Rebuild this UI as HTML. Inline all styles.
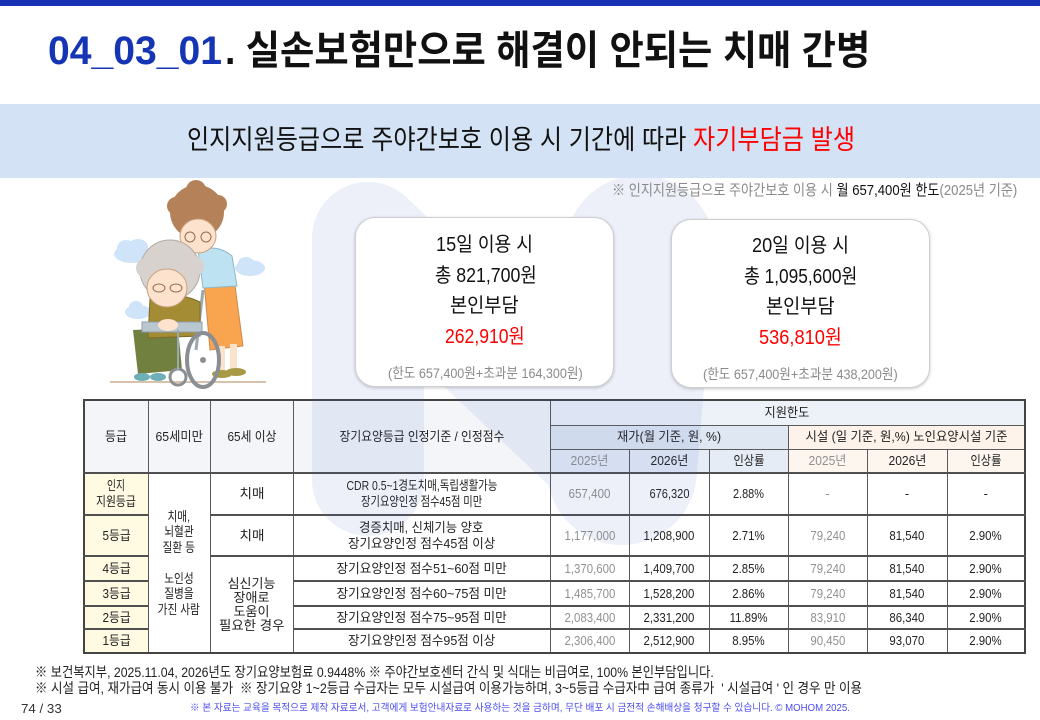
<!DOCTYPE html>
<html><head><meta charset="utf-8">
<style>
*{margin:0;padding:0;box-sizing:border-box}
html,body{width:1040px;height:720px;overflow:hidden;background:#fff}
body{position:relative;font-family:"Liberation Sans","Noto Sans CJK KR",sans-serif;color:#1a1a1a}
.a{position:absolute;white-space:nowrap;line-height:1;transform-origin:0 50%}
.f{display:inline-block;white-space:nowrap;transform-origin:50% 50%}
.bar{position:absolute;left:0;top:0;width:1040px;height:6px;background:#1732b2}
.band{position:absolute;left:0;top:104px;width:1040px;height:74px;background:#d3e2f4;z-index:3}
.box{position:absolute;background:#fff;border:1px solid #cfcfcf;border-radius:20px;box-shadow:0 1px 3px rgba(0,0,0,0.22);z-index:3}
.bt{z-index:4}
.tb{position:absolute;left:83px;top:399px;border-collapse:collapse;table-layout:fixed;width:943px;font-size:13px;border:2px solid #444;z-index:1}
.tb td{border:1px solid #5a5a5a;text-align:center;vertical-align:middle;padding:0;line-height:16px;white-space:nowrap;color:#222}
.tb tr.d td{border-top:2px solid #505050}
.h{background:#f3f5f9}
.h1{background:#edf2f8}
.jb{background:#dfe7f2}
.sb{background:#fdf3ea}
.jy{background:#e5ecf6}
.sy{background:#fdf6ef}
.y{background:#fffbe2}
.g{color:#909090 !important}
.k .f{transform:scaleX(0.82)}
.n .f{transform:scaleX(0.88)}
.wm{position:absolute;left:0;top:0;z-index:2;pointer-events:none}
</style></head>
<body>
<div class="bar"></div>

<div class="a" style="left:48px;top:31px;font-size:40px;font-weight:bold;color:#1535b5;--tw:174px">04_03_01</div>
<div class="a" style="left:225px;top:31px;font-size:40px;font-weight:bold;color:#111;--tw:645px">. 실손보험만으로 해결이 안되는 치매 간병</div>

<div class="band"></div>
<div class="a" style="left:187px;top:127px;font-size:27px;color:#111;z-index:4;--tw:668px">인지지원등급으로 주야간보호 이용 시 기간에 따라 <span style="color:#ff0000">자기부담금 발생</span></div>

<div class="a" style="left:612px;top:183px;font-size:15px;color:#8a8a8a;z-index:4;--tw:405px">※ 인지지원등급으로 주야간보호 이용 시 <span style="color:#111">월 657,400원 한도</span>(2025년 기준)</div>

<!-- illustration -->
<svg style="position:absolute;left:100px;top:170px" width="300" height="230" viewBox="0 0 300 230">
  <g fill="#cfe4f8">
    <ellipse cx="32" cy="84" rx="18" ry="9"/><ellipse cx="26" cy="78" rx="9" ry="8"/><ellipse cx="38" cy="77" rx="10" ry="8"/>
    <ellipse cx="150" cy="98" rx="15" ry="8"/><ellipse cx="146" cy="93" rx="8" ry="6"/>
    <ellipse cx="38" cy="142" rx="13" ry="7"/><ellipse cx="36" cy="137" rx="7" ry="6"/>
  </g>
  <line x1="10" y1="212" x2="166" y2="212" stroke="#d9c2aa" stroke-width="2"/>
  <path d="M104 112 L134 108 L143 176 L110 180 Z" fill="#f9a54f" stroke="#c98a50" stroke-width="1"/>
  <path d="M98 80 Q118 74 132 86 L137 116 L103 118 Z" fill="#bde2f2" stroke="#8fb7c8" stroke-width="1"/>
  <rect x="118" y="176" width="7" height="26" fill="#fbe2cc"/><rect x="130" y="174" width="7" height="26" fill="#fbe2cc"/>
  <ellipse cx="122" cy="204" rx="10" ry="4" fill="#a89a45"/><ellipse cx="136" cy="202" rx="10" ry="4" fill="#a89a45"/>
  <circle cx="97" cy="42" r="27" fill="#b58159"/>
  <circle cx="76" cy="36" r="9" fill="#b58159"/><circle cx="118" cy="34" r="9" fill="#b58159"/><circle cx="96" cy="20" r="10" fill="#b58159"/>
  <ellipse cx="98" cy="66" rx="18" ry="17" fill="#fde3cd" stroke="#c9a080" stroke-width="1"/>
  <circle cx="90" cy="67" r="5" fill="none" stroke="#9a6a50" stroke-width="1"/><circle cx="106" cy="67" r="5" fill="none" stroke="#9a6a50" stroke-width="1"/>
  <line x1="103" y1="120" x2="96" y2="180" stroke="#9aa8b0" stroke-width="3"/>
  <path d="M33 160 L78 158 L82 200 L38 204 Z" fill="#717f3f"/>
  <path d="M50 128 Q75 120 100 132 L100 166 L48 168 Z" fill="#a38c33" stroke="#7d6a28" stroke-width="1"/>
  <rect x="42" y="152" width="60" height="10" fill="#b9c8d0" stroke="#8e9ea8" stroke-width="1"/>
  <circle cx="70" cy="100" r="30" fill="#d7d2cd" stroke="#b3aaa2" stroke-width="1"/>
  <circle cx="46" cy="98" r="10" fill="#d7d2cd"/><circle cx="94" cy="96" r="10" fill="#d7d2cd"/>
  <ellipse cx="67" cy="118" rx="20" ry="19" fill="#fde3cd" stroke="#c9a080" stroke-width="1"/>
  <ellipse cx="59" cy="118" rx="6" ry="4" fill="none" stroke="#9a6a50" stroke-width="1"/><ellipse cx="76" cy="118" rx="6" ry="4" fill="none" stroke="#9a6a50" stroke-width="1"/>
  <ellipse cx="68" cy="155" rx="10" ry="6" fill="#fde3cd"/>
  <ellipse cx="42" cy="207" rx="8" ry="4" fill="#6fb0b8"/><ellipse cx="58" cy="207" rx="8" ry="4" fill="#6fb0b8"/>
  <ellipse cx="103" cy="190" rx="16" ry="27" fill="none" stroke="#8a8f94" stroke-width="4"/>
  <circle cx="103" cy="190" r="3" fill="#8a8f94"/>
  <circle cx="78" cy="207" r="8" fill="none" stroke="#8a8f94" stroke-width="3"/>
  <line x1="78" y1="160" x2="78" y2="200" stroke="#9aa8b0" stroke-width="2"/>
</svg>

<!-- table -->
<table class="tb">
<colgroup><col style="width:64px"><col style="width:62px"><col style="width:83px"><col style="width:257px"><col style="width:79px"><col style="width:80px"><col style="width:79px"><col style="width:79px"><col style="width:80px"><col style="width:78px"></colgroup>
<tr style="height:25px">
 <td rowspan="3" class="h"><span class="f" style="--tw:22px">등급</span></td>
 <td rowspan="3" class="h"><span class="f" style="--tw:47px">65세미만</span></td>
 <td rowspan="3" class="h"><span class="f" style="--tw:49px">65세 이상</span></td>
 <td rowspan="3" class="h"><span class="f" style="--tw:165px">장기요양등급 인정기준 / 인정점수</span></td>
 <td colspan="6" class="h1"><span class="f" style="--tw:45px">지원한도</span></td>
</tr>
<tr style="height:24px">
 <td colspan="3" class="jb"><span class="f" style="--tw:104px">재가(월 기준, 원, %)</span></td>
 <td colspan="3" class="sb"><span class="f" style="--tw:202px">시설 (일 기준, 원,%) 노인요양시설 기준</span></td>
</tr>
<tr style="height:24px">
 <td class="jy g"><span class="f" style="--tw:38px">2025년</span></td>
 <td class="jy"><span class="f" style="--tw:38px">2026년</span></td>
 <td class="jy"><span class="f" style="--tw:31px">인상률</span></td>
 <td class="sy g"><span class="f" style="--tw:38px">2025년</span></td>
 <td class="sy"><span class="f" style="--tw:38px">2026년</span></td>
 <td class="sy"><span class="f" style="--tw:31px">인상률</span></td>
</tr>
<tr class="d" style="height:42px">
 <td class="y"><span class="f" style="--tw:18px">인지</span><br><span class="f" style="--tw:40px">지원등급</span></td>
 <td rowspan="6" class="k" style="line-height:15.5px"><span class="f">치매,</span><br><span class="f">뇌혈관</span><br><span class="f">질환 등</span><br>&nbsp;<br><span class="f">노인성</span><br><span class="f">질병을</span><br><span class="f">가진 사람</span></td>
 <td><span class="f" style="--tw:25px">치매</span></td>
 <td><span class="f" style="--tw:151px">CDR 0.5~1경도치매,독립생활가능</span><br><span class="f" style="--tw:121px">장기요양인정 점수45점 미만</span></td>
 <td class="g"><span class="f" style="--tw:42px">657,400</span></td>
 <td><span class="f" style="--tw:40px">676,320</span></td>
 <td><span class="f" style="--tw:31px">2.88%</span></td>
 <td class="g">-</td><td>-</td><td>-</td>
</tr>
<tr class="d" style="height:41px">
 <td class="y"><span class="f" style="--tw:28px">5등급</span></td>
 <td><span class="f" style="--tw:25px">치매</span></td>
 <td><span class="f" style="--tw:124px">경증치매, 신체기능 양호</span><br><span class="f" style="--tw:147px">장기요양인정 점수45점 이상</span></td>
 <td class="g n"><span class="f">1,177,000</span></td>
 <td class="n"><span class="f">1,208,900</span></td>
 <td class="n"><span class="f">2.71%</span></td>
 <td class="g n"><span class="f">79,240</span></td>
 <td class="n"><span class="f">81,540</span></td>
 <td class="n"><span class="f">2.90%</span></td>
</tr>
<tr class="d" style="height:25px">
 <td class="y"><span class="f" style="--tw:28px">4등급</span></td>
 <td rowspan="4" style="line-height:14px"><span class="f" style="--tw:48px">심신기능</span><br><span class="f" style="--tw:36px">장애로</span><br><span class="f" style="--tw:36px">도움이</span><br><span class="f" style="--tw:65px">필요한 경우</span></td>
 <td><span class="f" style="--tw:170px">장기요양인정 점수51~60점 미만</span></td>
 <td class="g n"><span class="f">1,370,600</span></td>
 <td class="n"><span class="f">1,409,700</span></td>
 <td class="n"><span class="f">2.85%</span></td>
 <td class="g n"><span class="f">79,240</span></td>
 <td class="n"><span class="f">81,540</span></td>
 <td class="n"><span class="f">2.90%</span></td>
</tr>
<tr class="d" style="height:25px">
 <td class="y"><span class="f" style="--tw:28px">3등급</span></td>
 <td><span class="f" style="--tw:170px">장기요양인정 점수60~75점 미만</span></td>
 <td class="g n"><span class="f">1,485,700</span></td>
 <td class="n"><span class="f">1,528,200</span></td>
 <td class="n"><span class="f">2.86%</span></td>
 <td class="g n"><span class="f">79,240</span></td>
 <td class="n"><span class="f">81,540</span></td>
 <td class="n"><span class="f">2.90%</span></td>
</tr>
<tr class="d" style="height:23px">
 <td class="y"><span class="f" style="--tw:28px">2등급</span></td>
 <td><span class="f" style="--tw:170px">장기요양인정 점수75~95점 미만</span></td>
 <td class="g n"><span class="f">2,083,400</span></td>
 <td class="n"><span class="f">2,331,200</span></td>
 <td class="n"><span class="f">11.89%</span></td>
 <td class="g n"><span class="f">83,910</span></td>
 <td class="n"><span class="f">86,340</span></td>
 <td class="n"><span class="f">2.90%</span></td>
</tr>
<tr class="d" style="height:24px">
 <td class="y"><span class="f" style="--tw:28px">1등급</span></td>
 <td><span class="f" style="--tw:147px">장기요양인정 점수95점 이상</span></td>
 <td class="g n"><span class="f">2,306,400</span></td>
 <td class="n"><span class="f">2,512,900</span></td>
 <td class="n"><span class="f">8.95%</span></td>
 <td class="g n"><span class="f">90,450</span></td>
 <td class="n"><span class="f">93,070</span></td>
 <td class="n"><span class="f">2.90%</span></td>
</tr>
</table>

<!-- watermark -->
<svg class="wm" width="1040" height="720" viewBox="0 0 1040 720">
  <g opacity="0.085" fill="none" stroke="#3f5fc4" stroke-linecap="round" stroke-linejoin="round">
    <path d="M368 238 L368 480" stroke-width="112"/>
    <path d="M368 238 L612 468" stroke-width="112"/>
    <path d="M622 470 L640 250" stroke-width="150"/>
  </g>
</svg>

<!-- boxes -->
<div class="box" style="left:355px;top:217px;width:259px;height:170px"></div>
<div class="box" style="left:671px;top:219px;width:259px;height:169px"></div>

<div class="a bt" style="left:436px;top:235px;font-size:20px;color:#111;--tw:97px">15일 이용 시</div>
<div class="a bt" style="left:435px;top:266px;font-size:20px;color:#111;--tw:102px">총 821,700원</div>
<div class="a bt" style="left:450px;top:296px;font-size:20px;color:#111;--tw:69px">본인부담</div>
<div class="a bt" style="left:445px;top:327px;font-size:20px;color:#ff0000;--tw:80px">262,910원</div>
<div class="a bt" style="left:388px;top:366px;font-size:14px;color:#8a8a8a;--tw:195px">(한도 657,400원+초과분 164,300원)</div>

<div class="a bt" style="left:752px;top:236px;font-size:20px;color:#111;--tw:97px">20일 이용 시</div>
<div class="a bt" style="left:744px;top:267px;font-size:20px;color:#111;--tw:113px">총 1,095,600원</div>
<div class="a bt" style="left:766px;top:297px;font-size:20px;color:#111;--tw:69px">본인부담</div>
<div class="a bt" style="left:759px;top:328px;font-size:20px;color:#ff0000;--tw:83px">536,810원</div>
<div class="a bt" style="left:703px;top:367px;font-size:14px;color:#8a8a8a;--tw:195px">(한도 657,400원+초과분 438,200원)</div>

<!-- footnotes -->
<div class="a" style="left:35px;top:665px;font-size:14px;color:#222;--tw:679px">※ 보건복지부, 2025.11.04, 2026년도 장기요양보험료 0.9448% ※ 주야간보호센터 간식 및 식대는 비급여로, 100% 본인부담입니다.</div>
<div class="a" style="left:35px;top:681px;font-size:14px;color:#222;--tw:827px">※ 시설 급여, 재가급여 동시 이용 불가 &nbsp;※ 장기요양 1~2등급 수급자는 모두 시설급여 이용가능하며, 3~5등급 수급자中 급여 종류가 &nbsp;' 시설급여 ' 인 경우 만 이용</div>
<div class="a" style="left:21px;top:702px;font-size:13px;color:#333;--tw:41px">74 / 33</div>
<div class="a" style="left:190px;top:704px;font-size:10px;color:#4b4bf0;--tw:660px">※ 본 자료는 교육을 목적으로 제작 자료로서, 고객에게 보험안내자료로 사용하는 것을 금하며, 무단 배포 시 금전적 손해배상을 청구할 수 있습니다. © MOHOM 2025.</div>

<script>
(function(){
  var els=document.querySelectorAll('[style*="--tw"]');
  for(var i=0;i<els.length;i++){
    var e=els[i];
    var tw=parseFloat(e.style.getPropertyValue('--tw'));
    var w=e.offsetWidth;
    if(w>0&&tw>0){e.style.transform='scaleX('+(tw/w).toFixed(4)+')';}
  }
})();
</script>
</body></html>
